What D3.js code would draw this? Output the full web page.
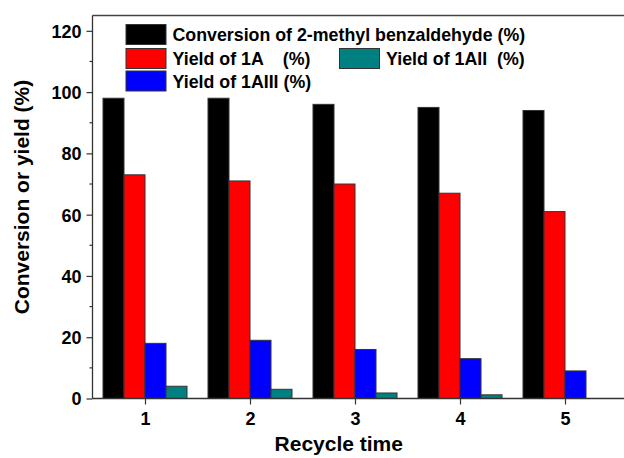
<!DOCTYPE html>
<html>
<head>
<meta charset="utf-8">
<script src="https://cdn.jsdelivr.net/npm/d3@7"></script>
<style>
  html, body { margin: 0; padding: 0; background: #fff; }
  svg { display: block; font-family: Arial, "Liberation Sans", sans-serif; font-weight: bold; }
  text { white-space: pre; }
</style>
</head>
<body>
<svg id="chart" width="624" height="458"></svg>
<script>
// Recycle runs
const cycles = [1, 2, 3, 4, 5];

// Values in percent, one array per series
const conversion = [98, 98, 96, 95, 94];
const yield1A = [73, 71, 70, 67, 61];
const yield1AIII = [18, 19, 16, 13, 9];
const yield1AII = [4, 3, 1.8, 1.2, 0];

const yTicks = [0, 20, 40, 60, 80, 100, 120];
const yMinorTicks = [10, 30, 50, 70, 90, 110];

// Bars are drawn left to right in this order inside each group
const series = [
  { name: "Conversion of 2-methyl benzaldehyde (%)", values: conversion, color: "#000000" },
  { name: "Yield of 1A    (%)", values: yield1A, color: "#ff0000" },
  { name: "Yield of 1AIII (%)", values: yield1AIII, color: "#0000ff" },
  { name: "Yield of 1AII  (%)", values: yield1AII, color: "#008080" }
];

const svg = d3.select("#chart");
const plotLeft = 92.5, plotTop = 15.5, plotBottom = 398.5, plotRight = 617.5;

const x = d3.scaleLinear().domain([0.5, 5.5]).range([plotLeft, plotRight]);
const y = d3.scaleLinear().domain([0, 125]).range([plotBottom, plotTop]);
const slot = 0.2; // fraction of one cycle taken by each bar

// Bars
series.forEach((s, i) => {
  svg.append("g").selectAll("rect")
    .data(cycles.map((c, k) => ({ c, v: s.values[k] })))
    .join("rect")
    .attr("x", d => x(d.c - 0.4 + i * slot))
    .attr("width", d => x(d.c - 0.4 + (i + 1) * slot) - x(d.c - 0.4 + i * slot))
    .attr("y", d => y(d.v))
    .attr("height", d => y(0) - y(d.v))
    .attr("fill", s.color)
    .attr("stroke", d => d.v > 0 ? "#333" : "none")
    .attr("stroke-width", 1);
});

// Frame: top border runs off the right edge
svg.append("line")
  .attr("x1", plotLeft).attr("x2", 640).attr("y1", plotTop).attr("y2", plotTop)
  .attr("stroke", "#444").attr("stroke-width", 1.3);

// Y axis
const yAxis = d3.axisLeft(y).tickValues(yTicks).tickSize(6).tickPadding(5).tickFormat(d3.format("d"));
const gy = svg.append("g").attr("transform", `translate(${plotLeft},0)`).call(yAxis);
gy.select(".domain").attr("d", `M0,${plotTop}V${plotBottom}`).attr("stroke", "#333").attr("stroke-width", 1.3);
gy.selectAll(".tick line").attr("stroke", "#333").attr("stroke-width", 1.2);
gy.selectAll(".tick text").attr("font-size", 18).attr("font-weight", "bold").attr("fill", "#000")
  .attr("font-family", "Arial, 'Liberation Sans', sans-serif").attr("dy", "0.36em");

svg.append("g").selectAll("line").data(yMinorTicks).join("line")
  .attr("x1", plotLeft - 3).attr("x2", plotLeft).attr("y1", d => y(d)).attr("y2", d => y(d))
  .attr("stroke", "#333").attr("stroke-width", 1.2);

// X axis
const xAxis = d3.axisBottom(x).tickValues(cycles).tickSize(6).tickPadding(8).tickFormat(d3.format("d"));
const gx = svg.append("g").attr("transform", `translate(0,${plotBottom})`).call(xAxis);
gx.select(".domain").attr("d", `M${plotLeft},0H640`).attr("stroke", "#333").attr("stroke-width", 1.3);
gx.selectAll(".tick line").attr("stroke", "#333").attr("stroke-width", 1.2);
gx.selectAll(".tick text").attr("font-size", 18).attr("font-weight", "bold").attr("fill", "#000")
  .attr("font-family", "Arial, 'Liberation Sans', sans-serif");

// Axis titles
svg.append("text")
  .attr("x", (plotLeft + 585) / 2).attr("y", 451)
  .attr("text-anchor", "middle").attr("font-size", 21).attr("fill", "#000")
  .text("Recycle time");

svg.append("text")
  .attr("transform", "translate(29,197) rotate(-90)")
  .attr("text-anchor", "middle").attr("font-size", 21).attr("fill", "#000")
  .text("Conversion or yield (%)");

// Legend
const legendItems = [
  { s: series[0], x: 126, y: 24.5 },
  { s: series[1], x: 126, y: 48.5 },
  { s: series[3], x: 339.5, y: 48.5 },
  { s: series[2], x: 126, y: 71 }
];
const lg = svg.append("g");
legendItems.forEach(it => {
  lg.append("rect")
    .attr("x", it.x).attr("y", it.y).attr("width", 40).attr("height", 20)
    .attr("fill", it.s.color).attr("stroke", "#333").attr("stroke-width", 1);
  lg.append("text")
    .attr("x", it.x + 46.5).attr("y", it.y + 16.5)
    .attr("font-size", 17.8).attr("fill", "#000")
    .text(it.s.name);
});
</script>
</body>
</html>
